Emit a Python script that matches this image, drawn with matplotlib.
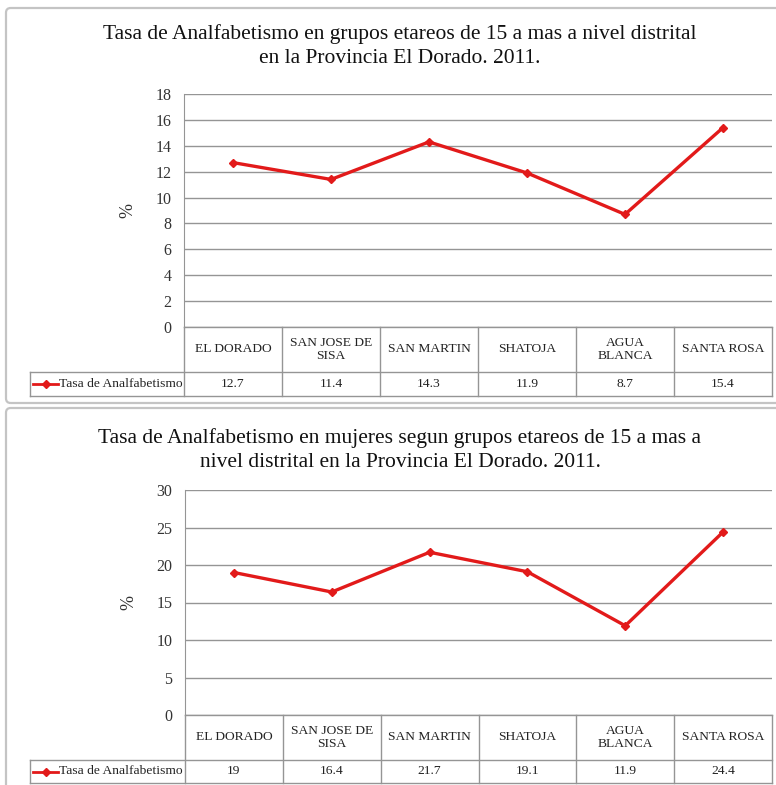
import matplotlib.pyplot as plt
from matplotlib.patches import FancyBboxPatch
from matplotlib.transforms import blended_transform_factory

plt.rcParams['font.family'] = ['Liberation Serif', 'DejaVu Serif']

distritos = ['EL DORADO', 'SAN JOSE DE\nSISA', 'SAN MARTIN', 'SHATOJA', 'AGUA\nBLANCA', 'SANTA ROSA']
tasa_total = [12.7, 11.4, 14.3, 11.9, 8.7, 15.4]
tasa_mujeres = [19, 16.4, 21.7, 19.1, 11.9, 24.4]
serie = 'Tasa de Analfabetismo'

titulo1 = 'Tasa de Analfabetismo en grupos etareos de 15 a mas a nivel distrital\nen la Provincia El Dorado. 2011.'
titulo2 = 'Tasa de Analfabetismo en mujeres segun grupos etareos de 15 a mas a\nnivel distrital en la Provincia El Dorado. 2011.'

W, H = 776, 785
ROJO = '#e21a1a'
GRIS = '#959595'

fig = plt.figure(figsize=(W / 100, H / 100), dpi=100)


def px(x, y):
    return x / W, 1 - y / H


def panel(top, bottom):
    # marco redondeado del grafico
    x0, y0 = px(6, bottom)
    x1, y1 = px(790, top)
    box = FancyBboxPatch((x0, y0), x1 - x0, y1 - y0, boxstyle='round,pad=0,rounding_size=0.006',
                         transform=fig.transFigure, fill=False, edgecolor='#c4c4c4', lw=1.6)
    fig.patches.append(box)


def grafico(rect_px, valores, ymax, paso, titulo, titulo_y, cat_h_px, dat_h_px):
    left, top, right, bottom = rect_px
    ax = fig.add_axes([left / W, 1 - bottom / H, (right - left) / W, (bottom - top) / H])
    alto = bottom - top
    ancho = right - left
    x = list(range(len(distritos)))
    ax.plot(x, valores, color=ROJO, lw=2.4, marker='D', markersize=4.5, zorder=3)
    ax.set_xlim(-0.5, len(distritos) - 0.5)
    ax.set_ylim(0, ymax)
    ax.set_yticks(range(0, ymax + 1, paso))
    ax.yaxis.grid(True, color=GRIS, lw=1)
    ax.set_axisbelow(True)
    ax.set_xticks([])
    for s in ['right', 'bottom', 'top']:
        ax.spines[s].set_visible(False)
    ax.spines['left'].set_color(GRIS)
    ax.tick_params(axis='y', length=0, pad=9, labelsize=11.5, labelcolor='#333333')
    ax.text(-0.095, 0.5, '%', transform=ax.transAxes, rotation=90, ha='center', va='center',
            fontsize=13, color='#333333')

    # tabla de datos bajo el eje
    ch = cat_h_px / alto
    dh = dat_h_px / alto
    tr = blended_transform_factory(ax.transData, ax.transAxes)
    ley_x = (30 - left) / ancho
    kw = dict(color=GRIS, lw=1, clip_on=False)
    ax.plot([0, 1], [0, 0], transform=ax.transAxes, **kw)
    ax.plot([ley_x, 1], [-ch, -ch], transform=ax.transAxes, **kw)
    ax.plot([ley_x, 1], [-ch - dh, -ch - dh], transform=ax.transAxes, **kw)
    ax.plot([ley_x, ley_x], [-ch, -ch - dh], transform=ax.transAxes, **kw)
    for i in range(len(distritos) + 1):
        ax.plot([i - 0.5, i - 0.5], [0, -ch - dh], transform=tr, **kw)
    for i, (d, v) in enumerate(zip(distritos, valores)):
        ax.text(i, -ch / 2, d, transform=tr, ha='center', va='center', fontsize=9.7,
                linespacing=1.1, color='#222222')
        ax.text(i, -ch - dh / 2, f'{v:g}', transform=tr, ha='center', va='center',
                fontsize=9.7, color='#222222')
    ax.plot([(33 - left) / ancho, (58 - left) / ancho], [-ch - dh / 2] * 2, transform=ax.transAxes,
            color=ROJO, lw=2, clip_on=False)
    ax.plot([(45.5 - left) / ancho], [-ch - dh / 2], transform=ax.transAxes, color=ROJO,
            marker='D', markersize=4, clip_on=False)
    ax.text((59 - left) / ancho, -ch - dh / 2, serie, transform=ax.transAxes, ha='left',
            va='center', fontsize=9.7, color='#222222')

    fig.text(400 / W, 1 - titulo_y / H, titulo, ha='center', va='center', fontsize=15.5,
             linespacing=1.35, color='#111111')
    return ax


panel(8, 403)
panel(408, 800)
grafico((184, 94, 772, 327), tasa_total, 18, 2, titulo1, 46, 45, 24)
grafico((185, 490, 772, 715), tasa_mujeres, 30, 5, titulo2, 450, 45, 23)

fig.savefig('out.png', dpi=100)
